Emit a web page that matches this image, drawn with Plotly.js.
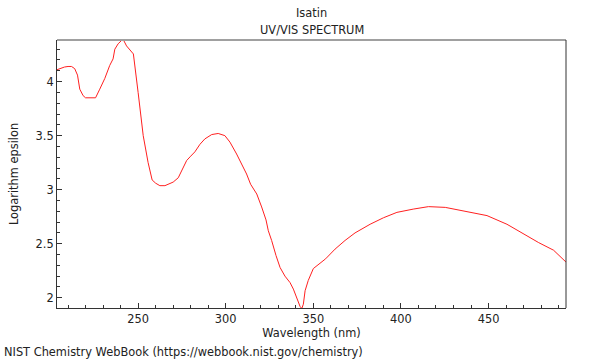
<!DOCTYPE html>
<html><head><meta charset="utf-8">
<script src="https://cdn.plot.ly/plotly-3.0.1.min.js"></script>
<style>html,body{margin:0;padding:0;background:#fff}#chart{width:600px;height:360px}</style>
</head><body><div id="chart"></div>
<script>
var wavelength = [203.7,206,208,210,212,213.8,215.4,216.7,218.6,220,223,225.7,228.1,231,233.8,235.7,236.7,238.6,240.5,241.8,243.4,245.5,247.3,250,252.9,255.7,258,260,262.4,265.3,268,270,272.9,275.7,277.7,280,282.4,285.3,288.1,292,295.7,299.5,302.4,306.2,309.1,311.9,314.2,317.7,320.5,323,324.3,326.2,328.7,331,333.8,336.7,338.6,340.5,342.4,343.4,344.3,345.3,347.1,350,353.8,357,362.4,368.1,373.8,382.4,390,397.7,407,415.7,425.3,437.7,449.1,460.5,470,478.6,487.1,491.9,494.2];
var logEpsilon = [4.11,4.125,4.135,4.14,4.14,4.12,4.06,3.93,3.87,3.85,3.85,3.85,3.93,4.03,4.15,4.21,4.30,4.35,4.38,4.38,4.33,4.29,4.256,3.90,3.50,3.25,3.09,3.06,3.037,3.037,3.055,3.07,3.11,3.20,3.27,3.31,3.35,3.42,3.47,3.51,3.52,3.50,3.44,3.33,3.24,3.145,3.05,2.96,2.84,2.72,2.62,2.53,2.39,2.28,2.20,2.14,2.08,2.00,1.92,1.90,1.94,2.065,2.16,2.27,2.32,2.36,2.45,2.53,2.60,2.68,2.74,2.79,2.82,2.843,2.836,2.80,2.76,2.68,2.59,2.51,2.44,2.36,2.33];
var xTicks = [250,300,350,400,450];
var yTicks = [2,2.5,3,3.5,4];
var yTickText = ['2','2.5','3','3.5','4'];

var font = {family:'DejaVu Sans, sans-serif', size:11.4, color:'#222'};
var trace = {x:wavelength, y:logEpsilon, type:'scatter', mode:'lines',
  line:{color:'#ff2020', width:1}, hoverinfo:'none'};
var layout = {
  width:600, height:360,
  margin:{l:57, r:34, t:40, b:52, pad:0},
  paper_bgcolor:'#fff', plot_bgcolor:'#fff',
  showlegend:false, font:font,
  xaxis:{range:[203.7,494.2], tickvals:xTicks, ticks:'inside', ticklen:5, tickcolor:'#333',
    minor:{dtick:10, tick0:0, ticks:'inside', ticklen:3, tickcolor:'#333'},
    showgrid:false, zeroline:false, showline:true, linecolor:'#333', linewidth:1, mirror:false,
    tickfont:font, title:{text:'Wavelength (nm)', font:font, standoff:4}},
  yaxis:{range:[1.905,4.385], tickvals:yTicks, ticktext:yTickText, ticks:'inside', ticklen:5, tickcolor:'#333',
    minor:{dtick:0.1, tick0:0, ticks:'inside', ticklen:3, tickcolor:'#333'},
    showgrid:false, zeroline:false, showline:true, linecolor:'#333', linewidth:1, mirror:false,
    tickfont:font, title:{text:'Logarithm epsilon', font:font, standoff:14}},
  shapes:[
    {type:'line', xref:'paper', yref:'paper', x0:0, x1:1, y0:1, y1:1, line:{color:'#a0a0a0', width:2}},
    {type:'line', xref:'paper', yref:'paper', x0:1, x1:1, y0:0, y1:1, line:{color:'#333', width:1}}
  ],
  annotations:[
    {text:'Isatin', xref:'paper', yref:'paper', x:0.5, y:1, yshift:27, showarrow:false, font:font, xanchor:'center', yanchor:'middle'},
    {text:'UV/VIS SPECTRUM', xref:'paper', yref:'paper', x:0.5, y:1, yshift:10, showarrow:false, font:font, xanchor:'center', yanchor:'middle'},
    {text:'NIST Chemistry WebBook (https://webbook.nist.gov/chemistry)', xref:'paper', yref:'paper', x:0, xshift:-55, y:0, yshift:-44, showarrow:false, font:font, xanchor:'left', yanchor:'middle'}
  ]
};
Plotly.newPlot('chart', [trace], layout, {staticPlot:true, displayModeBar:false});
</script></body></html>
